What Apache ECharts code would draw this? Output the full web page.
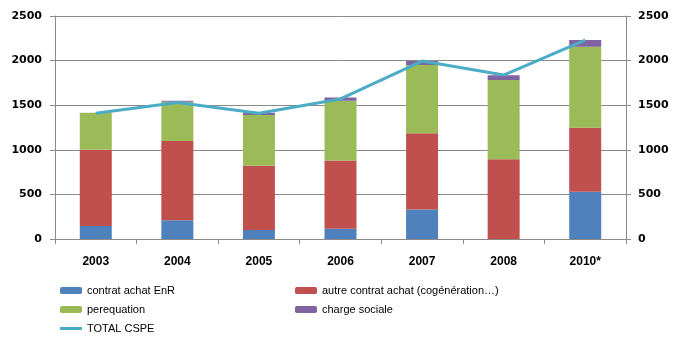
<!DOCTYPE html>
<html><head><meta charset="utf-8">
<script src="https://cdn.jsdelivr.net/npm/echarts@6/dist/echarts.min.js"></script>
<style>html,body{margin:0;padding:0;background:#fff}#c{width:680px;height:349px}</style>
</head><body><div id="c"></div>
<script>
var categories = ['2003','2004','2005','2006','2007','2008','2010*'];
var enr = [145, 210, 100, 115, 330, 0, 530];
var autre = [855, 890, 720, 765, 855, 893, 718];
var perequation = [415, 440, 570, 670, 765, 890, 908];
var chargeSociale = [0, 10, 25, 37, 45, 53, 75];
var totalCspe = [1410, 1530, 1410, 1570, 1995, 1838, 2230];
var yTicks = [0, 500, 1000, 1500, 2000, 2500];

var narrow = '"Liberation Sans Narrow", "Arial Narrow", "Liberation Sans", sans-serif';
var gridColor = '#8a8a8a';
function yAxis(pos){
  return {
    type:'value', position:pos, min:yTicks[0], max:yTicks[yTicks.length-1], interval:500,
    axisLine:{show:true, lineStyle:{color:gridColor, width:1}},
    axisTick:{show:true, length:5, lineStyle:{color:gridColor}},
    splitLine:{show: pos==='left', lineStyle:{color:gridColor, width:1}},
    axisLabel:{margin: pos==='left'?13:12, color:'#000', fontWeight:'bold', fontSize:11,
      fontFamily:'"DejaVu Sans", sans-serif', formatter:function(v){return String(v);}}
  };
}
var legText = {fontSize:11, color:'#000', fontFamily:narrow};
var chart = echarts.init(document.getElementById('c'));
var barW = 32;
chart.setOption({
  animation:false,
  grid:{left:55, right:54, top:16, bottom:110},
  legend:[
    {left:60, top:285, height:70, padding:0, orient:'vertical', itemWidth:22, itemHeight:7, itemGap:8,
     textStyle:legText, data:['contrat achat EnR','perequation',
       {name:'TOTAL CSPE', icon:'path://M0,0L22,0L22,3L0,3Z'}]},
    {left:295, top:285, height:70, padding:0, orient:'vertical', itemWidth:22, itemHeight:7, itemGap:8,
     textStyle:legText, data:['autre contrat achat (cogénération…)','charge sociale']}
  ],
  xAxis:{type:'category', data:categories, boundaryGap:true,
    axisLine:{lineStyle:{color:gridColor}},
    axisTick:{show:true, length:5, alignWithLabel:false, lineStyle:{color:gridColor}},
    axisLabel:{margin:17, color:'#000', fontWeight:'bold', fontSize:12, fontFamily:narrow}},
  yAxis:[yAxis('left'), yAxis('right')],
  series:[
    {name:'contrat achat EnR', type:'bar', stack:'s', data:enr, barWidth:barW, itemStyle:{color:'#4F81BD'}},
    {name:'autre contrat achat (cogénération…)', type:'bar', stack:'s', data:autre, barWidth:barW, itemStyle:{color:'#C0504D'}},
    {name:'perequation', type:'bar', stack:'s', data:perequation, barWidth:barW, itemStyle:{color:'#9BBB59'}},
    {name:'charge sociale', type:'bar', stack:'s', data:chargeSociale, barWidth:barW, itemStyle:{color:'#8064A2'}},
    {name:'TOTAL CSPE', type:'line', yAxisIndex:1, data:totalCspe, symbol:'none', lineStyle:{color:'#4BACC6', width:3}, itemStyle:{color:'#4BACC6'}}
  ]
});
</script></body></html>
